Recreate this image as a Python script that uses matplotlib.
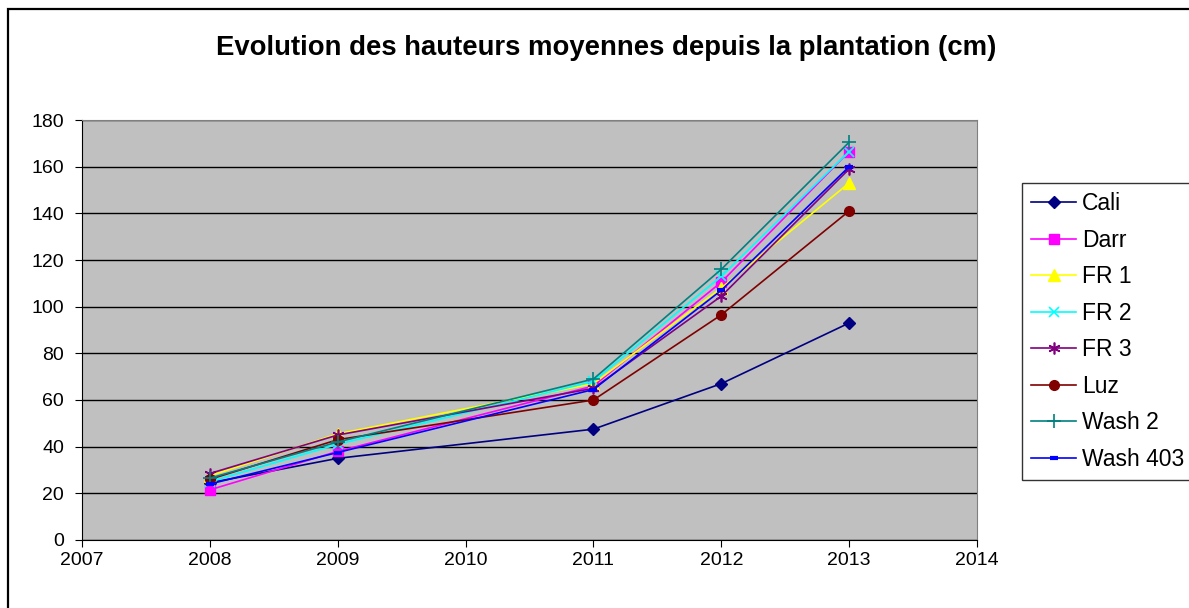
import matplotlib
matplotlib.use("Agg")
import matplotlib.pyplot as plt
from matplotlib.patches import Rectangle

plt.rcParams['font.family'] = ['Liberation Sans', 'DejaVu Sans']

years = [2008, 2009, 2011, 2012, 2013]
series_names = ["Cali", "Darr", "FR 1", "FR 2", "FR 3", "Luz", "Wash 2", "Wash 403"]
cali = [24.5, 35, 47.5, 67, 93]
darr = [21.5, 38, 66, 110.5, 166.5]
fr1 = [27.5, 45.5, 67, 108, 153]
fr2 = [25, 41, 68, 113, 166.5]
fr3 = [28.5, 45, 65, 104.5, 159]
luz = [26, 43, 60, 96.5, 141]
wash2 = [26.5, 42, 69, 116, 170.5]
wash403 = [24, 37.5, 64.5, 107, 160]
values = [cali, darr, fr1, fr2, fr3, luz, wash2, wash403]

colors = ["#000080", "#FF00FF", "#FFFF00", "#00FFFF", "#800080", "#800000", "#008080", "#0000FF"]
markers = ["D", "s", "^", "x", (6, 2, 0), "o", "+", "_"]
msizes = [6.5, 6.5, 8.5, 7.5, 8.5, 7, 10, 6]
mews = [1, 1, 1, 1.2, 1.2, 1, 1.2, 3]

W, H = 1189, 608
fig = plt.figure(figsize=(W/100, H/100), dpi=100)
ax = fig.add_axes([82/W, 68/H, 895/W, 420/H])
ax.set_facecolor("#C0C0C0")

for name, vals, c, m, ms, mew in zip(series_names, values, colors, markers, msizes, mews):
    ax.plot(years, vals, color=c, marker=m, markersize=ms, markeredgewidth=mew,
            markerfacecolor=c, markeredgecolor=c, linewidth=1.2, label=name, zorder=3)

ax.set_xlim(2007, 2014)
ax.set_ylim(0, 180)
ax.set_xticks(range(2007, 2015))
ax.set_yticks(range(0, 181, 20))
ax.yaxis.grid(True, color="black", linewidth=1)
ax.set_axisbelow(True)
for s in ax.spines.values():
    s.set_color("#808080")
ax.spines['left'].set_color("black")
ax.spines['bottom'].set_color("black")
ax.tick_params(axis='both', labelsize=14, direction='out', length=5, color='black')
ax.tick_params(axis='y', pad=8)

fig.text(606/W, 1 - 48/H, "Evolution des hauteurs moyennes depuis la plantation (cm)",
         ha='center', va='center', fontsize=19.8, fontweight='bold')

leg = fig.legend(loc='upper left', bbox_to_anchor=(1022/W, 1 - 476/H, 200/W, 293/H),
                 mode='expand',
                 bbox_transform=fig.transFigure, frameon=True, fancybox=False,
                 edgecolor='black', fontsize=16.5, handlelength=1.95, labelspacing=0.59,
                 borderaxespad=0, borderpad=0.4, handletextpad=0.27)
leg.get_frame().set_linewidth(1)

# chart area border (extends past the right and bottom edges)
fig.patches.append(Rectangle((8/W, -10/H), 1.05, 1 - 9/H + 10/H, transform=fig.transFigure,
                             fill=False, edgecolor='black', linewidth=1.6))

fig.savefig("out.png", dpi=100)
